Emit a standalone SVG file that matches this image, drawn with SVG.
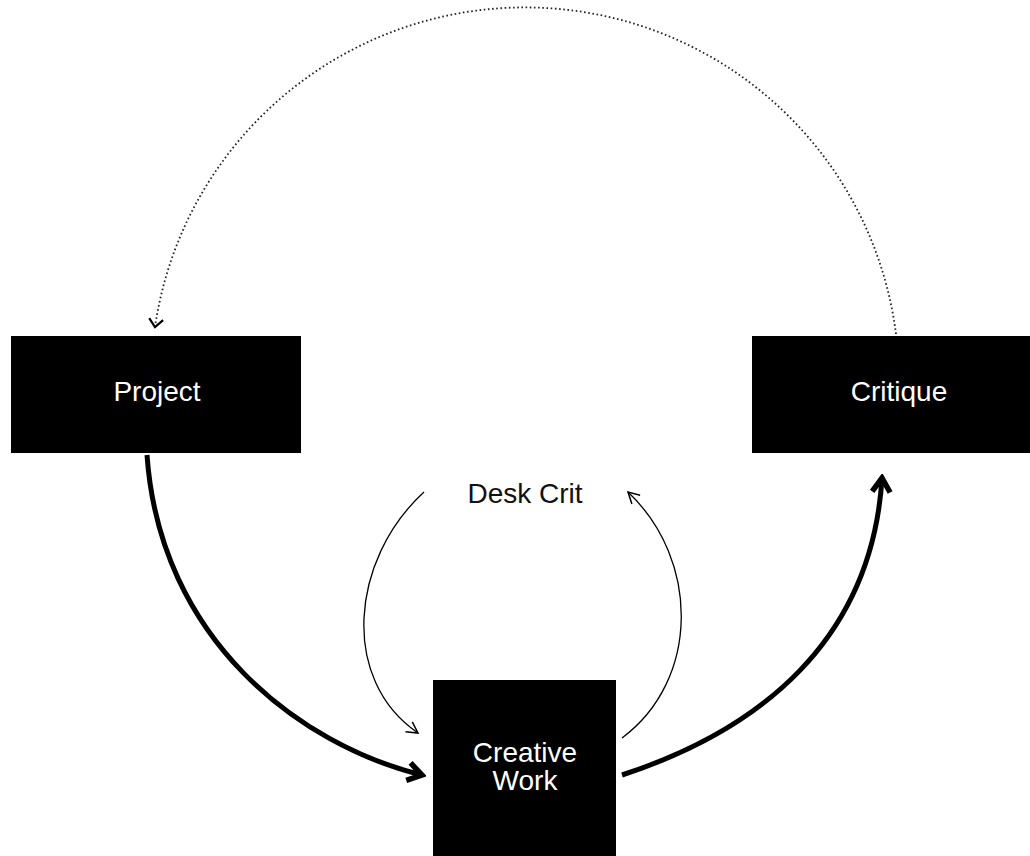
<svg xmlns="http://www.w3.org/2000/svg" width="1030" height="856" viewBox="0 0 1030 856">
<style>
.box{fill:#000}
.lbl{font-family:"Liberation Sans",Arial,sans-serif;font-size:28px;fill:#fff;text-anchor:middle}
.dlbl{font-family:"Liberation Sans",Arial,sans-serif;font-size:28px;fill:#111;text-anchor:middle}
.thick{fill:none;stroke:#000;stroke-width:5}
.thin{fill:none;stroke:#000;stroke-width:1.3}
.dot{fill:none;stroke:#222;stroke-width:1.8;stroke-dasharray:1.6 2.6}
</style>
<defs>
<marker id="ah" markerUnits="userSpaceOnUse" viewBox="-18 -12 22 24" markerWidth="22" markerHeight="24" orient="auto" refX="0" refY="0">
<path d="M-14,-9 L0,0 L-14,9" fill="none" stroke="#000" stroke-width="5.5"/>
</marker>
<marker id="at" markerUnits="userSpaceOnUse" viewBox="-14 -8 16 16" markerWidth="16" markerHeight="16" orient="auto" refX="0" refY="0">
<path d="M-11,-6 L0,0 L-11,6" fill="none" stroke="#000" stroke-width="1.5"/>
</marker>
<marker id="ad" markerUnits="userSpaceOnUse" viewBox="-12 -10 14 20" markerWidth="14" markerHeight="20" orient="auto" refX="0" refY="0">
<path d="M-8,-7 L0,0 L-8,7" fill="none" stroke="#000" stroke-width="2.2"/>
</marker>
</defs>
<rect width="1030" height="856" fill="#fff"/>
<g id="connectors">
<path class="dot" d="M896,334 A 374 374 0 0 0 155,327" marker-end="url(#ad)"/>
<path class="thick" d="M147,455 C160,640 300,745 422,775" marker-end="url(#ah)"/>
<path class="thick" d="M622,775 C760,730 872,640 882,478" marker-end="url(#ah)"/>
<path class="thin" d="M424,492 C350,560 340,680 418,733" marker-end="url(#at)"/>
<path class="thin" d="M622,738 C700,680 700,560 628,492" marker-end="url(#at)"/>
</g>
<g id="project">
<rect class="box" x="11" y="336" width="290" height="117"/>
<text class="lbl" x="157" y="401">Project</text>
</g>
<g id="critique">
<rect class="box" x="752" y="336" width="278" height="117"/>
<text class="lbl" x="899" y="401">Critique</text>
</g>
<g id="creative-work">
<rect class="box" x="433" y="680" width="183" height="176"/>
<text class="lbl" x="525" y="762">Creative</text>
<text class="lbl" x="525" y="790">Work</text>
</g>
<g id="desk-crit">
<text class="dlbl" x="525" y="503">Desk Crit</text>
</g>
</svg>
